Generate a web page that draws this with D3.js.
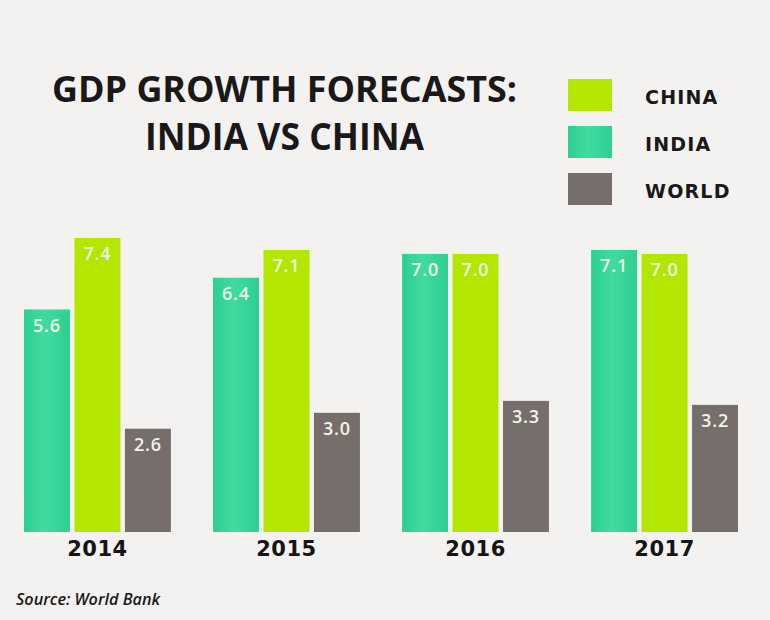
<!DOCTYPE html>
<html><head><meta charset="utf-8">
<script src="https://cdn.jsdelivr.net/npm/d3@7"></script>
<style>
html,body{margin:0;padding:0;background:#f3f2f1;}
svg{display:block;}
</style></head>
<body>
<script>
const years = ["2014","2015","2016","2017"];
const seriesNames = ["INDIA","CHINA","WORLD"];
const india = [5.6, 6.4, 7.0, 7.1];
const china = [7.4, 7.1, 7.0, 7.0];
const world = [2.6, 3.0, 3.3, 3.2];
const legendOrder = ["CHINA","INDIA","WORLD"];
const colors = {INDIA:"#36d699", CHINA:"#b3e600", WORLD:"#766e6b"};

const W = 770, H = 620;
const svg = d3.select("body").append("svg").attr("width", W).attr("height", H);
svg.append("rect").attr("width", W).attr("height", H).attr("fill", "#f3f2f1");

const defs = svg.append("defs");
const g = defs.append("linearGradient").attr("id","indiaGrad").attr("x1","0").attr("x2","1").attr("y1","0").attr("y2","0");
g.append("stop").attr("offset","0%").attr("stop-color","#2ccf91");
g.append("stop").attr("offset","45%").attr("stop-color","#41dba0");
g.append("stop").attr("offset","100%").attr("stop-color","#2dcf92");

const x0 = d3.scaleBand().domain(years).range([24, 738]).paddingInner(0.223).paddingOuter(0);
const x1 = d3.scaleBand().domain(seriesNames).range([0, x0.bandwidth()]).paddingInner(0.09).paddingOuter(0);
const y = d3.scaleLinear().domain([0, 7.4]).range([532, 238]);

const values = {INDIA: india, CHINA: china, WORLD: world};
const data = [];
years.forEach((yr, i) => seriesNames.forEach(s => data.push({year: yr, series: s, value: values[s][i]})));

const bars = svg.append("g");
bars.selectAll("rect").data(data).join("rect")
  .attr("x", d => x0(d.year) + x1(d.series))
  .attr("y", d => y(d.value))
  .attr("width", x1.bandwidth())
  .attr("height", d => y(0) - y(d.value))
  .attr("fill", d => d.series === "INDIA" ? "url(#indiaGrad)" : colors[d.series]);

bars.selectAll("text").data(data).join("text")
  .attr("x", d => x0(d.year) + x1(d.series) + x1.bandwidth()/2)
  .attr("y", d => y(d.value) + 22)
  .attr("text-anchor", "middle")
  .attr("font-family", "'Open Sans', sans-serif")
  .attr("font-weight", 600)
  .attr("font-size", 18)
  .attr("letter-spacing", 0.8)
  .attr("fill", "#eef4e8")
  .text(d => d.value.toFixed(1));

// x axis year labels
const xAxis = d3.axisBottom(x0).tickSize(0).tickPadding(0);
const axG = svg.append("g").attr("transform", "translate(0,536)").call(xAxis);
axG.select(".domain").remove();
axG.selectAll("text")
  .attr("dy", 0).attr("y", 20)
  .attr("font-family", "'DejaVu Sans', sans-serif")
  .attr("font-weight", "bold")
  .attr("font-size", 21)
  .attr("letter-spacing", 0.5)
  .attr("fill", "#161414");

// title
const title = svg.append("g").attr("font-family", "'Open Sans', sans-serif").attr("font-weight", 700).attr("fill", "#1a1818").attr("text-anchor","middle");
title.append("text").attr("x", 284.5).attr("y", 102).attr("font-size", 35)
  .attr("textLength", 465).attr("lengthAdjust", "spacingAndGlyphs").text("GDP GROWTH FORECASTS:");
title.append("text").attr("x", 284.5).attr("y", 150).attr("font-size", 38)
  .attr("textLength", 279).attr("lengthAdjust", "spacingAndGlyphs").text("INDIA VS CHINA");

// legend
const lg = svg.append("g");
legendOrder.forEach((s, i) => {
  const yy = 79 + i * 47;
  lg.append("rect").attr("x", 568).attr("y", yy).attr("width", 44).attr("height", 32)
    .attr("fill", s === "INDIA" ? "url(#indiaGrad)" : colors[s]);
  lg.append("text").attr("x", 645).attr("y", yy + 25)
    .attr("font-family", "'DejaVu Sans', sans-serif").attr("font-weight", "bold")
    .attr("font-size", 19).attr("letter-spacing", 1.2).attr("fill", "#1a1818").text(s);
});

// source
svg.append("text").attr("x", 16).attr("y", 605)
  .attr("font-family", "'Open Sans', sans-serif").attr("font-style", "italic").attr("font-weight", 600)
  .attr("font-size", 16).attr("textLength", 144).attr("lengthAdjust", "spacingAndGlyphs")
  .attr("fill", "#1a1818").text("Source: World Bank");
</script>
</body></html>
